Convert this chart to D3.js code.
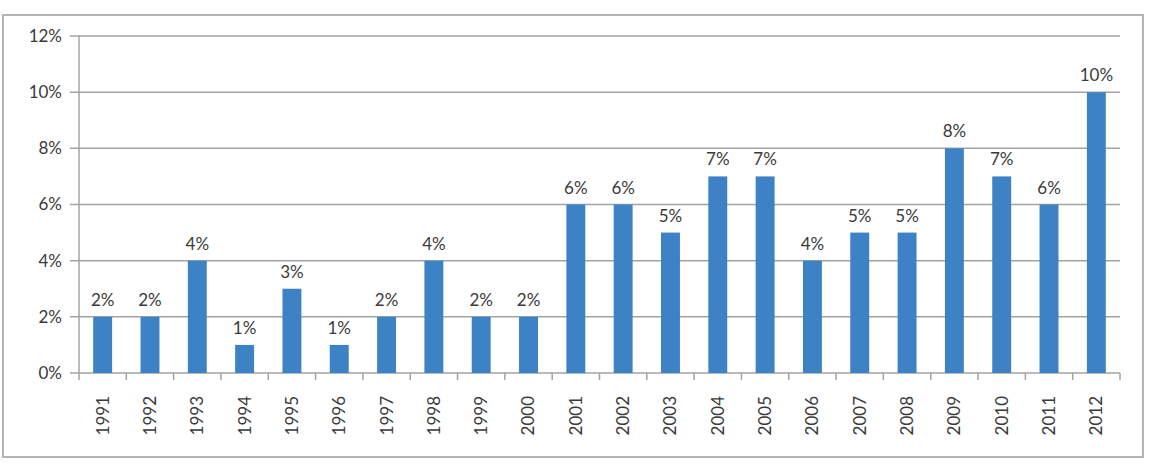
<!DOCTYPE html>
<html>
<head>
<meta charset="utf-8">
<script src="https://cdn.jsdelivr.net/npm/d3@7"></script>
<style>
  body { margin: 0; background: #fff; }
  text { font-family: Lato, "Liberation Sans", sans-serif; fill: #3a3a3a; }
</style>
</head>
<body>
<svg id="chart"></svg>
<script>
const years = ["1991", "1992", "1993", "1994", "1995", "1996", "1997", "1998", "1999", "2000", "2001",
  "2002", "2003", "2004", "2005", "2006", "2007", "2008", "2009", "2010", "2011", "2012"];
const shares = [2, 2, 4, 1, 3, 1, 2, 4, 2, 2, 6, 6, 5, 7, 7, 4, 5, 5, 8, 7, 6, 10];
const yTicks = [0, 2, 4, 6, 8, 10, 12];

const size = { width: 1153, height: 465 };
const margin = { top: 36, right: 33, bottom: 92, left: 79 };
const BAR = "#3c82c4";
const GRID = "#a3a3a3";

const svg = d3.select("#chart")
  .attr("width", size.width)
  .attr("height", size.height);

// outer frame
svg.append("rect")
  .attr("x", 3)
  .attr("y", 15)
  .attr("width", 1140)
  .attr("height", 442)
  .attr("fill", "none")
  .attr("stroke", "#b4b4b4")
  .attr("stroke-width", 2);

const x = d3.scaleBand()
  .domain(years)
  .range([margin.left, size.width - margin.right])
  .paddingInner(0.6)
  .paddingOuter(0.3);

const y = d3.scaleLinear()
  .domain([0, 12])
  .range([size.height - margin.bottom, margin.top]);

// gridlines + y labels
yTicks.forEach((t) => {
  svg.append("line")
    .attr("x1", margin.left - 9)
    .attr("x2", size.width - margin.right)
    .attr("y1", y(t))
    .attr("y2", y(t))
    .attr("stroke", GRID)
    .attr("stroke-width", 1.5);

  svg.append("text")
    .text(t + "%")
    .attr("x", 62)
    .attr("y", y(t))
    .attr("dy", "0.35em")
    .attr("text-anchor", "end")
    .attr("font-size", 17);
});

// y axis line
svg.append("line")
  .attr("x1", margin.left)
  .attr("x2", margin.left)
  .attr("y1", margin.top)
  .attr("y2", y(0))
  .attr("stroke", GRID)
  .attr("stroke-width", 1.5);

// x ticks between categories
const step = x.step();
d3.range(years.length + 1).forEach((i) => {
  const xv = margin.left + i * (size.width - margin.right - margin.left) / years.length;
  svg.append("line")
    .attr("x1", xv)
    .attr("x2", xv)
    .attr("y1", y(0))
    .attr("y2", y(0) + 7)
    .attr("stroke", GRID)
    .attr("stroke-width", 1.5);
});

svg.append("g")
  .attr("fill", BAR)
  .selectAll("rect")
  .data(shares)
  .enter()
  .append("rect")
  .attr("x", (d, i) => x(years[i]))
  .attr("width", x.bandwidth())
  .attr("y", (d) => y(d))
  .attr("height", (d) => y(0) - y(d));

svg.append("g")
  .selectAll("text")
  .data(shares)
  .enter()
  .append("text")
  .text((d) => d + "%")
  .attr("x", (d, i) => x(years[i]) + x.bandwidth() / 2)
  .attr("y", (d) => y(d) - 11)
  .attr("text-anchor", "middle")
  .attr("font-size", 17);

svg.append("g")
  .selectAll("text")
  .data(years)
  .enter()
  .append("text")
  .text((d) => d)
  .attr("transform", (d) => `translate(${x(d) + x.bandwidth() / 2}, 396) rotate(-90)`)
  .attr("dy", "0.35em")
  .attr("text-anchor", "end")
  .attr("font-size", 17);
</script>
</body>
</html>
